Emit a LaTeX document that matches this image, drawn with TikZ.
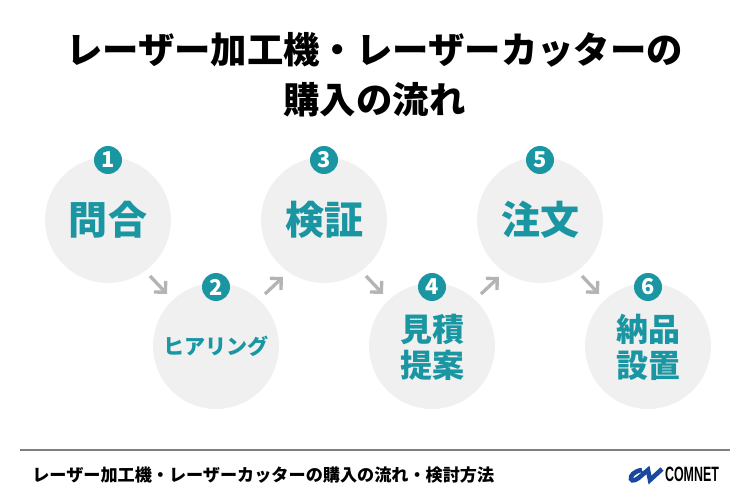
\documentclass[tikz,border=0pt]{standalone}
\usepackage{fontspec}
\setmainfont{Noto Sans CJK JP}
\newfontfamily\logofont{Liberation Sans}
\usetikzlibrary{arrows.meta}
\definecolor{stepTeal}{HTML}{1A96A3}
\definecolor{stepGray}{HTML}{F0F0F0}
\definecolor{arrowGray}{HTML}{B4B4B4}
\definecolor{logoBlue}{HTML}{1848A0}
\newcommand{\drawStep}{\draw[stepArrow]}
\tikzset{
  stepCircle/.style={circle, fill=stepGray, minimum size=2.52cm, inner sep=0pt, text=stepTeal, font=\bfseries\fontsize{22.2}{26}\selectfont},
  stepBadge/.style={circle, fill=stepTeal, minimum size=.56cm, inner sep=0pt, text=white, font=\bfseries\fontsize{12.4}{12.4}\selectfont},
  stepArrow/.style={draw=arrowGray, line width=1.9pt, -{Straight Barb[length=4.6pt,width=9.2pt,line width=1.9pt]}},
  titleText/.style={align=center, font=\bfseries\fontsize{20.7}{28.4}\selectfont},
  stepTwoLine/.style={text=stepTeal, align=center, yshift=-1pt, font=\bfseries\fontsize{18.2}{20.5}\selectfont},
}
\begin{document}
\begin{tikzpicture}[x=.02cm,y=-.02cm]
      \useasboundingbox (0,0) rectangle (750,500);

      % title, two lines
      \node[titleText] (title) at (374.5,75) {レーザー加工機・レーザーカッターの\\購入の流れ};

      % upper row:   1     3     5
      % lower row:      2     4     6
      \node[stepCircle] (c1) at (108,220) {問合};
      \node[stepCircle] (c2) at (216,346) {};
      \node[stepCircle] (c3) at (324,220) {検証};
      \node[stepCircle] (c4) at (432,346) {};
      \node[stepCircle] (c5) at (540,220) {注文};
      \node[stepCircle] (c6) at (648,346) {};

      \node[text=stepTeal, font=\bfseries\fontsize{12}{12}\selectfont] (t2) at (c2) {ヒアリング};
      \node[stepTwoLine] (t4) at (c4) {見積\\提案};
      \node[stepTwoLine] (t6) at (c6) {納品\\設置};

      \node[stepBadge] (b1) at (108,160) {1};
      \node[stepBadge] (b2) at (216,287) {2};
      \node[stepBadge] (b3) at (324,160) {3};
      \node[stepBadge] (b4) at (432,287) {4};
      \node[stepBadge] (b5) at (540,160) {5};
      \node[stepBadge] (b6) at (648,287) {6};

      \drawStep ([shift={(42,56)}]c1.center) -- ([shift={(-49,-52)}]c2.center);
      \drawStep ([shift={(49,-52)}]c2.center) -- ([shift={(-41,57)}]c3.center);
      \drawStep ([shift={(42,56)}]c3.center) -- ([shift={(-49,-52)}]c4.center);
      \drawStep ([shift={(49,-52)}]c4.center) -- ([shift={(-41,57)}]c5.center);
      \drawStep ([shift={(42,56)}]c5.center) -- ([shift={(-49,-52)}]c6.center);

      % footer
      \draw[draw=black!50, line width=.8pt] (20,450) -- (730,450);
      \node[anchor=west, inner sep=0pt, font=\bfseries\fontsize{9.75}{12}\selectfont] (foot) at (32,475) {レーザー加工機・レーザーカッターの購入の流れ・検討方法};

      % logo
      \draw[logoBlue, line width=2.6pt] (642,470) .. controls (634,471) and (630,476) .. (631,479) .. controls (632,482) and (637,480) .. (642,475) -- (648,470) -- (650,480) -- (662,469);
      \node[font=\logofont\bfseries\fontsize{11.8}{12}\selectfont, xscale=.6, inner sep=0pt] (logo) at (692,474.5) {COMNET};

    \end{tikzpicture}
\end{document}
